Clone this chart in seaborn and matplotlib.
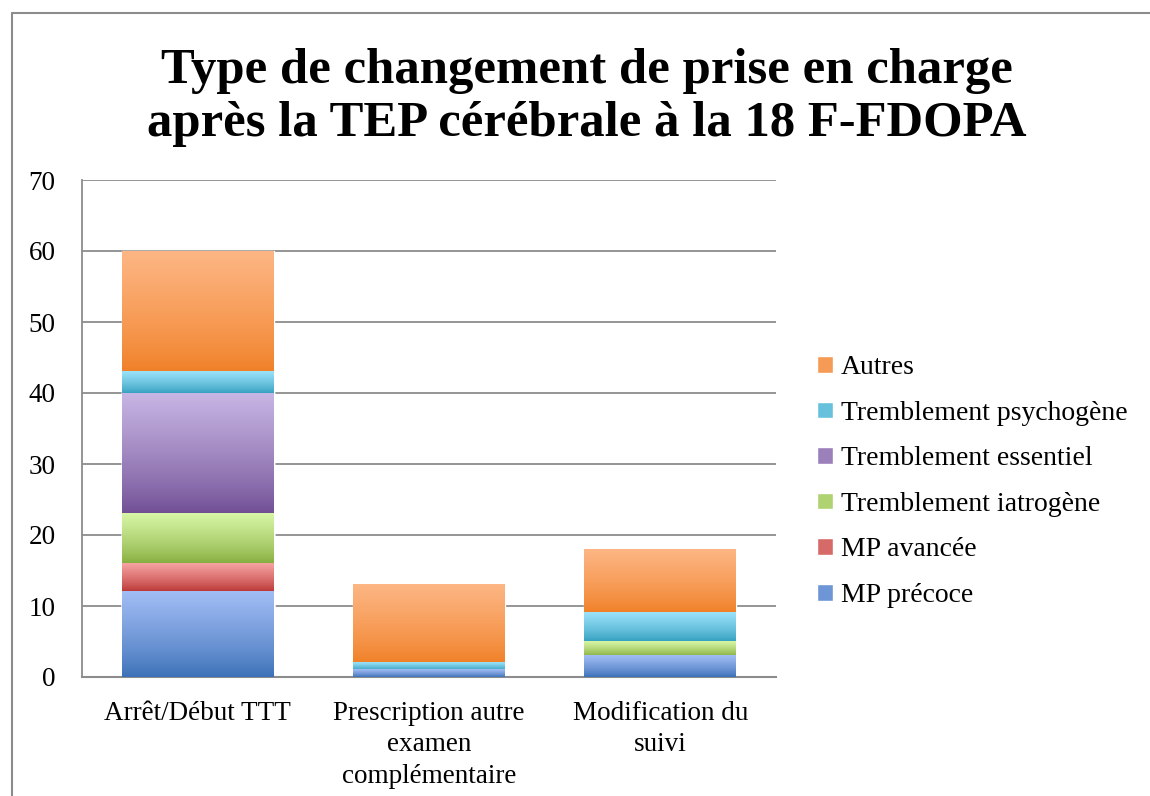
import numpy as np
import pandas as pd
import matplotlib
matplotlib.use('Agg')
import matplotlib.pyplot as plt
import matplotlib.colors as mcolors
from matplotlib.lines import Line2D
from matplotlib.patches import Patch
import seaborn as sns

# Data
categories = ['Arrêt/Début TTT', 'Prescription autre\nexamen\ncomplémentaire', 'Modification du\nsuivi']
series = ['MP précoce', 'MP avancée', 'Tremblement iatrogène',
          'Tremblement essentiel', 'Tremblement psychogène', 'Autres']
mp_precoce = [12, 1, 3]
mp_avancee = [4, 0, 0]
tr_iatrogene = [7, 0, 2]
tr_essentiel = [17, 0, 0]
tr_psychogene = [3, 1, 4]
autres = [17, 11, 9]
y_ticks = [0, 10, 20, 30, 40, 50, 60, 70]

# gradient colours (top, bottom) for each series
grad = {
    'MP précoce': ('#a2bdf5', '#3a6fb6'),
    'MP avancée': ('#f6a3a2', '#b7312f'),
    'Tremblement iatrogène': ('#d8f6a6', '#86ad3e'),
    'Tremblement essentiel': ('#c7b5e3', '#6e4c93'),
    'Tremblement psychogène': ('#9ce2fa', '#33a0bf'),
    'Autres': ('#fdb684', '#f07f25'),
}

values = [mp_precoce, mp_avancee, tr_iatrogene, tr_essentiel, tr_psychogene, autres]
df = pd.DataFrame({s: v for s, v in zip(series, values)}, index=categories)
cum = df.cumsum(axis=1)

sns.set_style('white')
plt.rcParams['font.family'] = ['Liberation Serif', 'DejaVu Serif']
plt.rcParams['text.color'] = 'black'
plt.rcParams['xtick.color'] = 'black'
plt.rcParams['ytick.color'] = 'black'

fig = plt.figure(figsize=(11.5, 7.96), dpi=100)
ax = fig.add_axes([82 / 1150, 1 - 677 / 796, 694 / 1150, 497 / 796])

# stacked bars: draw cumulative totals, tallest first
for s in reversed(series):
    sns.barplot(x=categories, y=cum[s].values, color=grad[s][1], width=0.657,
                ax=ax, zorder=2, saturation=1)

# overlay vertical gradients on each visible segment
n = len(categories)
patches = ax.patches
for k, s in enumerate(reversed(series)):
    cmap = mcolors.LinearSegmentedColormap.from_list(s, [grad[s][1], grad[s][0]])
    g = np.linspace(0, 1, 256).reshape(-1, 1) ** 0.8
    for j in range(n):
        p = patches[k * n + j]
        top = cum[s].values[j]
        bot = top - df[s].values[j]
        if top - bot <= 0:
            continue
        x0 = p.get_x()
        ax.imshow(g, cmap=cmap, origin='lower', aspect='auto', zorder=3,
                  extent=(x0, x0 + p.get_width(), bot, top), interpolation='bilinear')

ax.set_xlim(-0.5, n - 0.5)
ax.set_ylim(0, 70)
ax.set_yticks(y_ticks)
ax.yaxis.grid(True, color='#8c8c8c', linewidth=1.3, zorder=0)
ax.set_axisbelow(True)
for side in ['top', 'right']:
    ax.spines[side].set_visible(False)
ax.spines['left'].set_color('#8c8c8c')
ax.spines['bottom'].set_color('#8c8c8c')
ax.spines['left'].set_linewidth(1.3)
ax.spines['bottom'].set_linewidth(1.5)
ax.tick_params(axis='both', length=0, labelsize=19.5)
ax.tick_params(axis='y', pad=19)
ax.tick_params(axis='x', pad=17)
for lbl in ax.get_xticklabels():
    lbl.set_linespacing(1.35)
ax.set_xlabel('')
ax.set_ylabel('')

fig.text(0.51, 0.878, 'Type de changement de prise en charge\naprès la TEP cérébrale à la 18 F-FDOPA',
         ha='center', va='center', fontsize=36.5, fontweight='bold', linespacing=1.2)

handles = [Patch(facecolor=mcolors.to_hex(np.mean([mcolors.to_rgb(c) for c in grad[s]], axis=0)),
                 label=s) for s in reversed(series)]
fig.legend(handles=handles, loc='center left', bbox_to_anchor=(0.689, 0.395), frameon=False,
           fontsize=20, handlelength=0.55, handleheight=0.55, handletextpad=0.3,
           labelspacing=0.74)

# outer chart border
fig.add_artist(Line2D([12 / 1150, 12 / 1150], [0, 1 - 13 / 796], color='#8c8c8c', lw=1.5))
fig.add_artist(Line2D([12 / 1150, 1], [1 - 13 / 796, 1 - 13 / 796], color='#8c8c8c', lw=1.5))

fig.savefig('out.png', dpi=100)
